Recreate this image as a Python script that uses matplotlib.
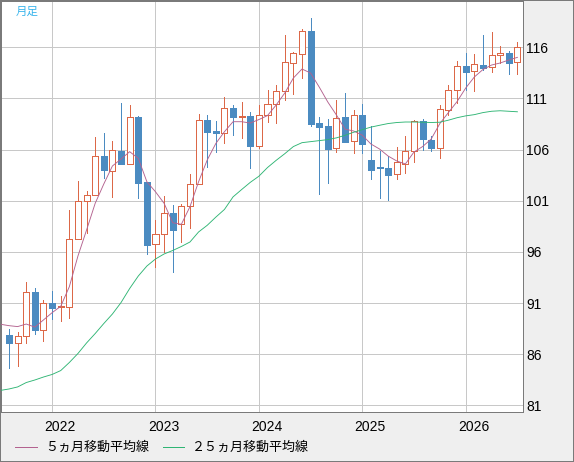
import matplotlib
matplotlib.use('Agg')
import matplotlib.pyplot as plt
from matplotlib.patches import Rectangle
from matplotlib.lines import Line2D

# ---------------- data ----------------
months = ['2021-08', '2021-09', '2021-10', '2021-11', '2021-12',
          '2022-01', '2022-02', '2022-03', '2022-04', '2022-05', '2022-06',
          '2022-07', '2022-08', '2022-09', '2022-10', '2022-11', '2022-12',
          '2023-01', '2023-02', '2023-03', '2023-04', '2023-05', '2023-06',
          '2023-07', '2023-08', '2023-09', '2023-10', '2023-11', '2023-12',
          '2024-01', '2024-02', '2024-03', '2024-04', '2024-05', '2024-06',
          '2024-07', '2024-08', '2024-09', '2024-10', '2024-11', '2024-12',
          '2025-01', '2025-02', '2025-03', '2025-04', '2025-05', '2025-06',
          '2025-07', '2025-08', '2025-09', '2025-10', '2025-11', '2025-12',
          '2026-01', '2026-02', '2026-03', '2026-04', '2026-05', '2026-06',
          '2026-07']

opens = [87.88, 87.12, 87.75, 92.08, 88.40, 91.00, 90.60, 90.64, 97.23, 100.95,
         101.60, 105.38, 103.94, 105.86, 104.56, 109.19, 102.83, 96.74, 97.72, 99.77,
         98.70, 100.46, 102.61, 108.86, 107.80, 107.65, 110.04, 109.22, 109.25, 106.40,
         109.35, 110.43, 111.70, 114.50, 115.30, 117.59, 108.57, 108.31, 106.13, 109.19,
         106.80, 109.38, 104.98, 104.33, 104.20, 103.61, 104.56, 105.83, 108.77, 106.94,
         106.13, 109.87, 111.80, 114.14, 113.71, 114.27, 114.04, 115.22, 115.44, 114.53]
highs = [88.46, 88.20, 93.06, 92.47, 91.27, 92.18, 91.69, 100.10, 102.90, 101.93,
         107.23, 107.62, 106.84, 110.56, 110.33, 109.30, 102.83, 99.12, 101.46, 100.58,
         100.68, 103.61, 109.48, 109.38, 108.82, 111.14, 110.36, 110.62, 109.65, 110.36,
         111.83, 112.31, 117.23, 115.50, 117.76, 118.86, 109.16, 108.99, 110.82, 111.56,
         109.90, 110.46, 108.31, 105.90, 105.37, 106.25, 107.33, 108.89, 108.96, 107.33,
         110.39, 112.29, 114.66, 115.44, 115.37, 117.20, 117.47, 116.10, 115.61, 116.52]
lows = [84.62, 84.88, 87.12, 87.97, 87.32, 89.47, 89.22, 89.57, 97.23, 97.82,
        101.60, 103.22, 101.40, 104.59, 104.56, 101.30, 95.82, 94.55, 96.02, 94.00,
        97.00, 98.37, 102.61, 104.27, 105.80, 106.62, 107.43, 107.16, 104.23, 106.20,
        108.73, 108.63, 110.85, 111.39, 112.97, 108.34, 101.63, 102.76, 105.80, 106.70,
        105.70, 105.70, 103.16, 101.30, 101.07, 103.10, 103.74, 104.82, 105.96, 105.90,
        105.15, 109.35, 110.53, 111.83, 111.76, 113.78, 113.61, 114.49, 113.42, 113.36]
closes = [87.12, 87.75, 92.05, 88.40, 90.98, 90.55, 90.70, 97.23, 101.00, 101.61,
          105.35, 104.00, 105.93, 104.59, 109.16, 102.76, 96.70, 97.75, 99.77, 98.17,
          100.52, 102.61, 108.86, 107.75, 107.65, 110.04, 109.22, 109.30, 106.38, 109.35,
          110.43, 111.73, 114.53, 115.41, 117.56, 108.53, 108.24, 106.09, 109.09, 106.77,
          109.35, 106.58, 104.04, 104.17, 103.55, 104.76, 105.83, 108.77, 107.01, 106.13,
          109.94, 111.80, 114.14, 113.61, 114.34, 114.01, 115.22, 115.41, 114.44, 116.00]

# moving averages, starting one month before the first candle (2021-07)
ma_start = '2021-07'
ma5 = [88.93, 88.79, 88.70, 88.95, 88.65, 89.35, 90.06, 90.68, 92.60, 95.60,
       98.14, 100.75, 102.64, 104.40, 105.08, 105.80, 105.15, 102.86, 101.88, 100.75,
       98.85, 98.70, 100.42, 102.86, 104.98, 106.60, 107.75, 108.73, 108.73, 108.60,
       108.94, 109.33, 110.36, 111.53, 113.00, 113.88, 113.49, 112.12, 110.65, 109.38,
       108.00, 107.82, 107.41, 106.55, 106.06, 105.37, 104.89, 104.60, 105.77, 106.30,
       107.04, 108.55, 109.63, 110.70, 112.02, 113.10, 113.83, 114.27, 114.47, 114.76,
       115.02]
ma25 = [82.46, 82.60, 82.80, 83.23, 83.48, 83.77, 84.02, 84.40, 85.19, 86.07,
        87.10, 88.02, 89.00, 89.93, 91.05, 92.42, 93.64, 94.62, 95.31, 95.80,
        96.14, 96.53, 96.97, 97.95, 98.60, 99.40, 100.15, 101.38, 102.10, 102.80,
        103.40, 104.25, 104.95, 105.60, 106.30, 106.68, 106.78, 106.88, 106.98, 107.15,
        107.40, 107.70, 107.95, 108.20, 108.38, 108.55, 108.65, 108.70, 108.70, 108.68,
        108.65, 108.68, 108.88, 109.12, 109.30, 109.42, 109.62, 109.75, 109.80, 109.75,
        109.70]

year_labels = ['2022', '2023', '2024', '2025', '2026']
y_ticks = [81, 86, 91, 96, 101, 106, 111, 116]
legend_labels = ['５ヵ月移動平均線', '２５ヵ月移動平均線']
corner_label = '月足'

# ---------------- style ----------------
W, H = 574, 462
PX = 72.0 / 100.0  # 1 pixel in points
col_up = '#dc6848'
col_dn = '#4b8bc1'
col_ma5 = '#b3628f'
col_ma25 = '#2fb574'
col_grid = '#c8c8c8'
col_frame = '#7a7a7a'
cjk = ['Noto Sans CJK JP', 'DejaVu Sans']

fig = plt.figure(figsize=(W / 100, H / 100), dpi=100, facecolor='#efefef')
ax = fig.add_axes([1 / W, 50 / H, 522 / W, 411 / H])
ax.set_facecolor('white')

n = len(months)
xs = list(range(n))
ax.set_xlim(-0.93, 59.65)
ax.set_ylim(80.35, 120.53)

# grid
for v in y_ticks:
    ax.axhline(v, color=col_grid, lw=PX, zorder=0, antialiased=False)
jan_pos = [months.index(y + '-01') for y in year_labels]
for p in jan_pos:
    ax.axvline(p, color=col_grid, lw=PX, zorder=0, antialiased=False)

# candles
bw = 0.70
for i in xs:
    o, h, l, c = opens[i], highs[i], lows[i], closes[i]
    up = c >= o
    col = col_up if up else col_dn
    ax.vlines(i, l, h, color=col, lw=PX, zorder=2, antialiased=False)
    bot, top = min(o, c), max(o, c)
    ax.add_patch(Rectangle((i - bw / 2, bot), bw, max(top - bot, 0.05),
                           facecolor='white' if up else col, edgecolor=col,
                           lw=PX, zorder=3, antialiased=False))

# moving averages
ma_x = [i - 1 for i in range(len(ma5))]
ax.plot(ma_x, ma5, color=col_ma5, lw=PX * 0.9, zorder=4, antialiased=True)
ax.plot(ma_x, ma25, color=col_ma25, lw=PX * 0.9, zorder=4, antialiased=True)

# ticks
ax.yaxis.tick_right()
ax.set_yticks(y_ticks)
ax.set_yticklabels([str(v) for v in y_ticks], fontsize=10, family='Liberation Sans')
ax.tick_params(axis='y', length=0, pad=2.5)
ax.set_xticks([p + 0.93 for p in jan_pos])
ax.set_xticklabels(year_labels, fontsize=10, family='Liberation Sans')
ax.tick_params(axis='x', length=0, pad=6)

for s in ax.spines.values():
    s.set_color(col_frame)
    s.set_linewidth(PX)

# corner label
ax.text(15 / 522, 1 - 10 / 411, corner_label, transform=ax.transAxes,
        color='#38b4ec', fontsize=8.3, va='center', ha='left', family=cjk)

# legend
ly = 1 - 447 / H
fig.add_artist(Line2D([15 / W, 37 / W], [ly, ly], color=col_ma5, lw=PX))
fig.text(45 / W, ly, legend_labels[0], fontsize=9.4, va='center', ha='left', family=cjk)
fig.add_artist(Line2D([163 / W, 184 / W], [ly, ly], color=col_ma25, lw=PX))
fig.text(192 / W, ly, legend_labels[1], fontsize=9.4, va='center', ha='left', family=cjk)

# outer frame
fig.add_artist(Rectangle((0, 0), 1, 1, transform=fig.transFigure, fill=False,
                         edgecolor=col_frame, lw=PX * 2))

fig.savefig('out.png', dpi=100, facecolor=fig.get_facecolor())
